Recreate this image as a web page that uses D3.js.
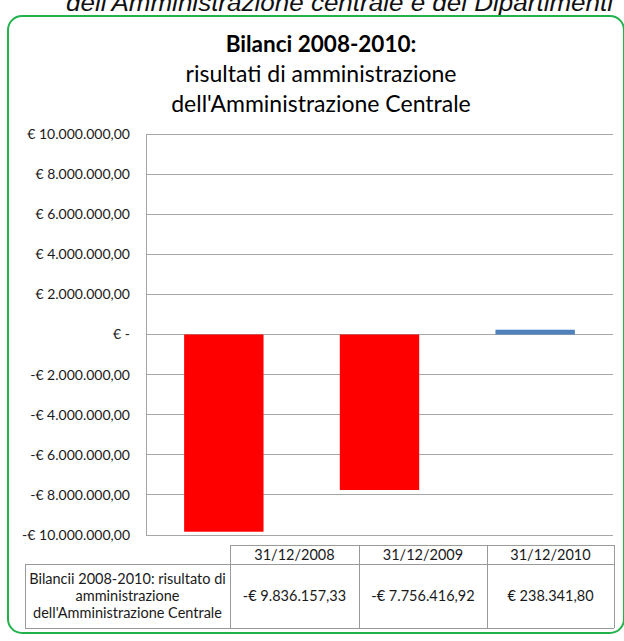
<!DOCTYPE html>
<html><head><meta charset="utf-8">
<script src="https://cdn.jsdelivr.net/npm/d3@7"></script>
<style>html,body{margin:0;padding:0;background:#fff;}svg{display:block;}</style>
</head><body>
<script>
const categories = ["31/12/2008", "31/12/2009", "31/12/2010"];
const values = [-9836157.33, -7756416.92, 238341.80];
const seriesName = ["Bilancii 2008-2010: risultato di", "amministrazione", "dell'Amministrazione Centrale"];
const yTicks = [10000000, 8000000, 6000000, 4000000, 2000000, 0, -2000000, -4000000, -6000000, -8000000, -10000000];
const yTickLabels = ["€ 10.000.000,00", "€ 8.000.000,00", "€ 6.000.000,00", "€ 4.000.000,00", "€ 2.000.000,00", "€ -", "-€ 2.000.000,00", "-€ 4.000.000,00", "-€ 6.000.000,00", "-€ 8.000.000,00", "-€ 10.000.000,00"];
const titleLines = ["Bilanci 2008-2010:", "risultati di amministrazione", "dell'Amministrazione Centrale"];
const headerText = "dell'Amministrazione centrale e dei Dipartimenti";

const W = 624, H = 641;
const font = "Lato, 'Open Sans', sans-serif";
const svg = d3.select("body").append("svg").attr("width", W).attr("height", H);

// cropped header text
svg.append("text").attr("x", 613).attr("y", 11).attr("text-anchor", "end")
  .attr("font-family", "'Liberation Sans', Arial, sans-serif").attr("font-style", "italic")
  .attr("font-size", 23).attr("fill", "#111").attr("textLength", 547).attr("lengthAdjust", "spacingAndGlyphs")
  .text(headerText);

// green rounded frame
svg.append("rect").attr("x", 8).attr("y", 16).attr("width", 616).attr("height", 617)
  .attr("rx", 14).attr("ry", 14).attr("fill", "#fff").attr("stroke", "#21b24b").attr("stroke-width", 2);

// title
const tg = svg.append("g").attr("font-family", font).attr("fill", "#000").attr("text-anchor", "middle");
const titleY = [52, 82, 112];
titleLines.forEach((t, i) => {
  tg.append("text").attr("x", 321).attr("y", titleY[i]).attr("font-size", i === 0 ? 22.5 : 23)
    .attr("font-weight", i === 0 ? "bold" : "normal").text(t);
});

// scales
const plotL = 146, plotR = 613, plotT = 134, plotB = 535;
const x = d3.scaleBand().domain(categories).range([plotL, plotR]).paddingInner(0.49).paddingOuter(0.245);
const y = d3.scaleLinear().domain([-10000000, 10000000]).range([plotB, plotT]);

// gridlines
const grid = svg.append("g");
grid.selectAll("line").data(yTicks).join("line")
  .attr("x1", plotL).attr("x2", plotR).attr("y1", d => y(d)).attr("y2", d => y(d))
  .attr("stroke", "#a6a6a6").attr("stroke-width", 1).attr("shape-rendering", "crispEdges");
svg.append("line").attr("x1", plotL).attr("x2", plotL).attr("y1", plotT).attr("y2", plotB)
  .attr("stroke", "#a6a6a6").attr("shape-rendering", "crispEdges");

// y axis labels
const yAxis = d3.axisLeft(y).tickValues(yTicks).tickSize(0).tickPadding(16)
  .tickFormat((d, i) => yTickLabels[i]);
const ya = svg.append("g").attr("transform", `translate(${plotL},0)`).call(yAxis);
ya.select(".domain").remove();
ya.selectAll("text").attr("font-family", font).attr("font-size", 14).attr("fill", "#1a1a1a");

// bars
svg.append("g").selectAll("rect").data(values).join("rect")
  .attr("x", (d, i) => x(categories[i]))
  .attr("width", x.bandwidth())
  .attr("y", d => y(Math.max(0, d)))
  .attr("height", d => Math.abs(y(d) - y(0)))
  .attr("fill", d => d < 0 ? "#ff0000" : "#4f81bd");

// data table
const tTop = 545, tMid = 564, tBot = 628;
const tab = svg.append("g").attr("font-family", font).attr("font-size", 14.5).attr("fill", "#1a1a1a");
const bc = "#9a9a9a";
const ln = (x1, y1, x2, y2) => tab.append("line").attr("x1", x1).attr("y1", y1).attr("x2", x2).attr("y2", y2)
  .attr("stroke", bc).attr("shape-rendering", "crispEdges");
const cEdges = [25, 230, 359, 487, 614];
ln(cEdges[1], tTop, cEdges[4], tTop);
ln(cEdges[0], tMid, cEdges[4], tMid);
ln(cEdges[0], tBot, cEdges[4], tBot);
ln(cEdges[0], tMid, cEdges[0], tBot);
for (let i = 1; i < 5; i++) ln(cEdges[i], tTop, cEdges[i], tBot);

const fmt = d3.formatLocale({decimal: ",", thousands: ".", grouping: [3], currency: ["€ ", ""]}).format("$,.2f");
const fmtVal = v => v < 0 ? "-" + fmt(-v) : fmt(v);
categories.forEach((c, i) => {
  const cx = (cEdges[i + 1] + cEdges[i + 2]) / 2;
  tab.append("text").attr("x", cx).attr("y", 560).attr("text-anchor", "middle").text(c);
  tab.append("text").attr("x", cx).attr("y", 601).attr("text-anchor", "middle").text(fmtVal(values[i]));
});
seriesName.forEach((t, i) => {
  tab.append("text").attr("x", (cEdges[0] + cEdges[1]) / 2).attr("y", 584 + i * 17)
    .attr("text-anchor", "middle").text(t);
});
</script>
</body></html>
